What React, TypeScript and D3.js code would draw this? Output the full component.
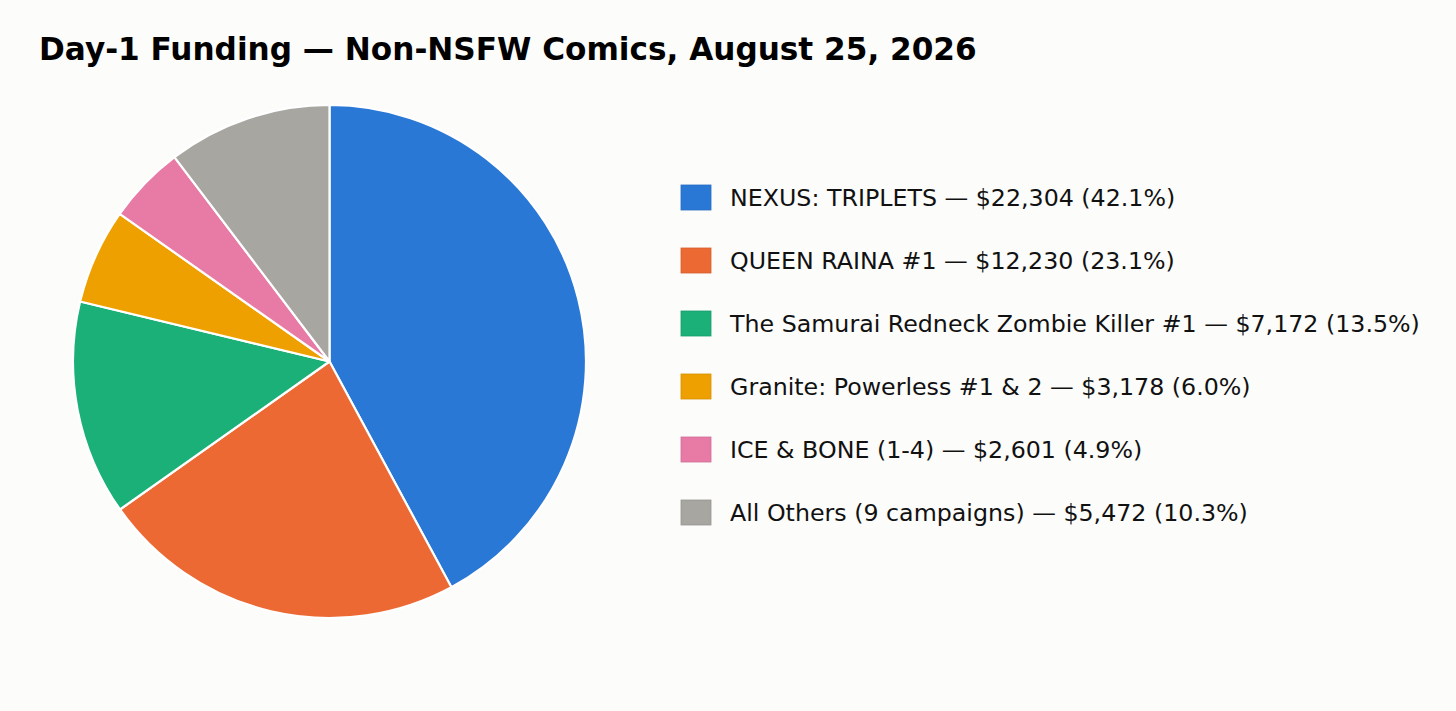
import * as d3 from "d3";

const labels = [
  "NEXUS: TRIPLETS",
  "QUEEN RAINA #1",
  "The Samurai Redneck Zombie Killer #1",
  "Granite: Powerless #1 & 2",
  "ICE & BONE (1-4)",
  "All Others (9 campaigns)",
];
const amounts = [22304, 12230, 7172, 3178, 2601, 5472];
const percents = ["42.1%", "23.1%", "13.5%", "6.0%", "4.9%", "10.3%"];
const colors = ["#2a78d6", "#ec6934", "#1bb078", "#eea000", "#e87ba5", "#a7a6a1"];

const W = 1456;
const H = 711;
const cx = 329.5;
const cy = 361.5;
const R = 256.5;

export default function App() {
  const pie = d3.pie<number>().sort(null).value((d) => d);
  const arcs = pie(amounts);
  const arc = d3.arc<d3.PieArcDatum<number>>().innerRadius(0).outerRadius(R);

  // legend rows: centres at 198, 261, ... 513
  const rows = d3.scaleBand<number>().domain(d3.range(labels.length)).range([166, 544]);
  const fmt = d3.format(",");

  return (
    <svg
      width={W}
      height={H}
      style={{ position: "absolute", left: 0, top: 0, background: "#fcfcfb" }}
      fontFamily="DejaVu Sans, sans-serif"
    >
      <rect width={W} height={H} fill="#fcfcfb" />
      <text x={39} y={59.5} fontSize={31.13} fontWeight="bold" fill="#000">
        Day-1 Funding — Non-NSFW Comics, August 25, 2026
      </text>
      <g transform={`translate(${cx},${cy})`}>
        {arcs.map((a, i) => (
          <path key={i} d={arc(a) ?? ""} fill={colors[i]} stroke="#fff" strokeWidth={2.2} strokeLinejoin="round" />
        ))}
      </g>
      <g>
        {labels.map((l, i) => {
          const y = rows(i)! + rows.bandwidth() / 2;
          return (
            <g key={l}>
              <rect x={681} y={y - 12.5} width={30} height={25} fill={colors[i]} stroke={d3.color(colors[i])!.darker(0.3).toString()} strokeWidth={0.8} />
              <text x={730} y={y + 8.5} fontSize={23.72} fill="#111">
                {`${l} — $${fmt(amounts[i])} (${percents[i]})`}
              </text>
            </g>
          );
        })}
      </g>
    </svg>
  );
}
